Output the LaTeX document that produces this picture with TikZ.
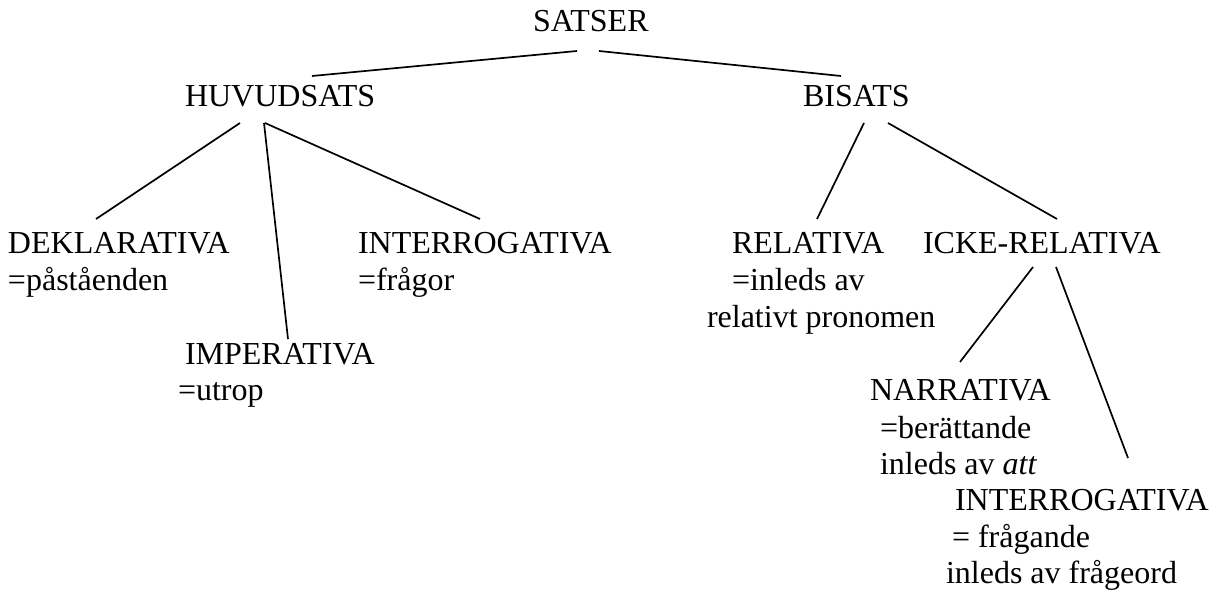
\documentclass[tikz,border=0pt]{standalone}
\usepackage{fontspec}
\setmainfont{Liberation Serif}
\begin{document}
\begin{tikzpicture}[x=1pt,y=-1pt,
  lbl/.style={anchor=base west,inner sep=0pt,outer sep=0pt,font=\fontsize{32}{37}\selectfont},
  edge/.style={line width=1.7pt,black}]
\useasboundingbox (0,0) rectangle (1223,591);
% texts
\node[lbl] (satser) at (533,32) {SATSER};
\node[lbl] (huv) at (185,107) {HUVUDSATS};
\node[lbl] (bis) at (803,107) {BISATS};
\node[lbl] (dek) at (8,253) {DEKLARATIVA};
\node[lbl] (dek2) at (8,290) {=påståenden};
\node[lbl] (int) at (358,253) {INTERROGATIVA};
\node[lbl] (int2) at (358,290) {=frågor};
\node[lbl] (imp) at (185,364) {IMPERATIVA};
\node[lbl] (imp2) at (178,400) {=utrop};
\node[lbl] (rel) at (732,253) {RELATIVA};
\node[lbl] (rel2) at (732,290) {=inleds av};
\node[lbl] (rel3) at (707,327) {relativt pronomen};
\node[lbl] (icke) at (923,253) {ICKE-RELATIVA};
\node[lbl] (nar) at (870,400) {NARRATIVA};
\node[lbl] (nar2) at (880,438) {=berättande};
\node[lbl] (nar3) at (880,474) {inleds av \textit{att}};
\node[lbl] (intb) at (955,510) {INTERROGATIVA};
\node[lbl] (intb2) at (952,547) {= frågande};
\node[lbl] (intb3) at (946,583) {inleds av frågeord};
% connector end points
\coordinate (satserL) at (577,51);
\coordinate (satserR) at (599,51);
\coordinate (huvT) at (312,76);
\coordinate (bisT) at (841,76);
\coordinate (huvB1) at (240,123);
\coordinate (huvB2) at (264,123);
\coordinate (huvB3) at (265,123);
\coordinate (dekT) at (96,219);
\coordinate (impT) at (288,339);
\coordinate (intT) at (480,219);
\coordinate (bisB1) at (864,123);
\coordinate (bisB2) at (888,123);
\coordinate (relT) at (817,219);
\coordinate (ickeT) at (1057,219);
\coordinate (ickeB1) at (1033,267);
\coordinate (ickeB2) at (1056,267);
\coordinate (narT) at (960,362);
\coordinate (intbT) at (1128,458);
% connectors
\draw[edge] (satserL) -- (huvT);
\draw[edge] (satserR) -- (bisT);
\draw[edge] (huvB1) -- (dekT);
\draw[edge] (huvB2) -- (impT);
\draw[edge] (huvB3) -- (intT);
\draw[edge] (bisB1) -- (relT);
\draw[edge] (bisB2) -- (ickeT);
\draw[edge] (ickeB1) -- (narT);
\draw[edge] (ickeB2) -- (intbT);
\end{tikzpicture}
\end{document}
